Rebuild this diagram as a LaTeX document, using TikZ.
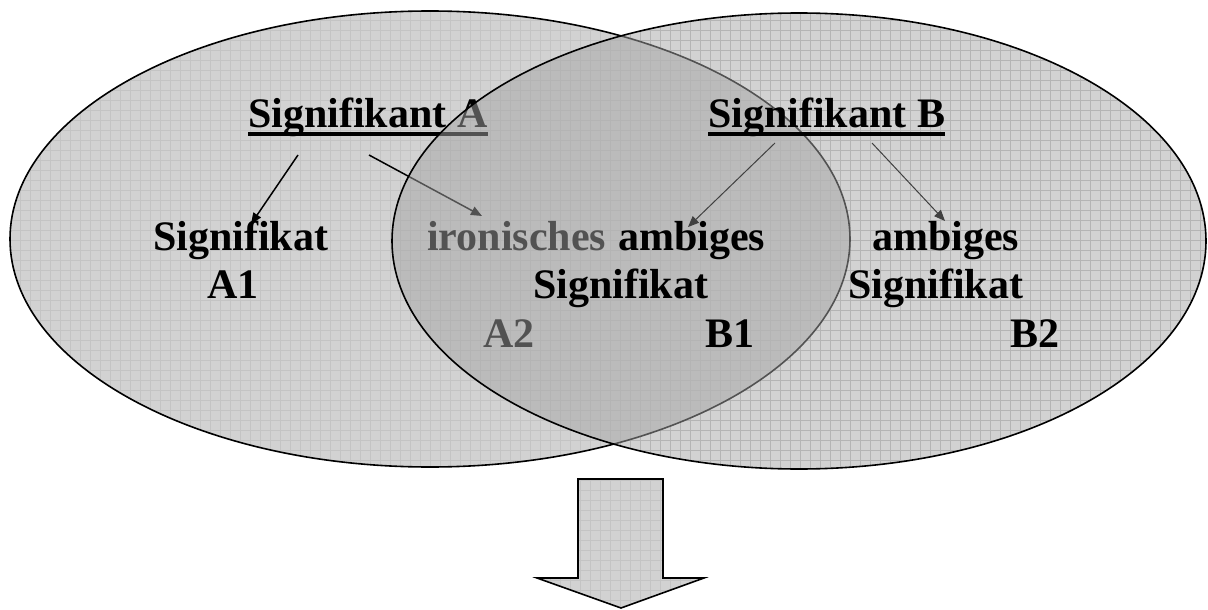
\documentclass[tikz,border=0pt]{standalone}
\usepackage{fontspec}
\setmainfont{Liberation Serif}
\usetikzlibrary{arrows.meta}
\definecolor{fillA}{HTML}{D2D2D2}
\definecolor{over}{HTML}{A5A5A5}
\definecolor{gridc}{HTML}{C4C4C4}
\begin{document}
\begin{tikzpicture}[x=1pt,y=-1pt,
  txt/.style={font=\fontsize{42}{48}\selectfont\bfseries, inner sep=0pt, anchor=base west},
  arrA/.style={line width=1.5pt, -{Triangle[length=11pt,width=9pt]}},
  arrB/.style={line width=1pt, draw=black!75, -{Triangle[length=11pt,width=9pt,fill=black!75]}},
  ul/.style={line width=4pt},
  outl/.style={line width=1.6pt},
  gridlines/.style={draw=gridc, line width=0.4pt}]
\useasboundingbox (0,0) rectangle (1208,610);

% left ellipse
\path[fill=fillA] (430,239) ellipse [x radius=420pt, y radius=228pt];
% texture of both ellipses (seen through the overlay on the right)
\begin{scope}
  \clip (430,239) ellipse [x radius=420pt, y radius=228pt];
  \draw[gridlines, step=10pt] (0,0) grid (1208,610);
\end{scope}
\begin{scope}
  \clip (799,241) ellipse [x radius=407pt, y radius=228pt];
  \draw[gridlines, step=10pt] (0,0) grid (1208,610);
\end{scope}
\draw[outl] (430,239) ellipse [x radius=420pt, y radius=228pt];

% left texts
\node[txt] (sa) at (248,127) {Signifikant A};
\draw[ul] ([yshift=-7pt]sa.base west) -- ([yshift=-7pt]sa.base east);
\node[txt] (sig1) at (153,250) {Signifikat};
\node[txt] (a1) at (207,298) {A1};
\node[txt] (iron) at (427,250) {ironisches};
\node[txt] (a2) at (483,347) {A2};
\coordinate (sas1) at (298,155);
\coordinate (sat1) at (251,224);
\coordinate (sas2) at (369,155);
\coordinate (sat2) at (482,216);
\draw[arrA] (sas1) -- (sat1);
\draw[arrA] (sas2) -- (sat2);

% right ellipse (translucent overlay)
\path[fill=over, fill opacity=0.5] (799,241) ellipse [x radius=407pt, y radius=228pt];
\draw[outl] (799,241) ellipse [x radius=407pt, y radius=228pt];

% right texts
\node[txt] (sb) at (708,127) {Signifikant B};
\draw[ul] ([yshift=-7pt]sb.base west) -- ([yshift=-7pt]sb.base east);
\node[txt] (amb1) at (618,250) {ambiges};
\node[txt] (sig2) at (533,298) {Signifikat};
\node[txt] (b1) at (705,347) {B1};
\node[txt] (amb2) at (872,250) {ambiges};
\node[txt] (sig3) at (848,298) {Signifikat};
\node[txt] (b2) at (1010,347) {B2};
\coordinate (sbs1) at (775,143);
\coordinate (sbt1) at (688,227);
\coordinate (sbs2) at (872,143);
\coordinate (sbt2) at (945,221);
\draw[arrB] (sbs1) -- (sbt1);
\draw[arrB] (sbs2) -- (sbt2);

% block arrow
\path[fill=fillA] (578,479) -- (663,479) -- (663,578) -- (704,578) -- (621,608) -- (537,578) -- (578,578) -- cycle;
\begin{scope}
  \clip (578,479) -- (663,479) -- (663,578) -- (704,578) -- (621,608) -- (537,578) -- (578,578) -- cycle;
  \draw[gridlines, step=10pt] (0,0) grid (1208,610);
\end{scope}
\draw[outl, line join=miter] (578,479) -- (663,479) -- (663,578) -- (704,578) -- (621,608) -- (537,578) -- (578,578) -- cycle;
\end{tikzpicture}
\end{document}
